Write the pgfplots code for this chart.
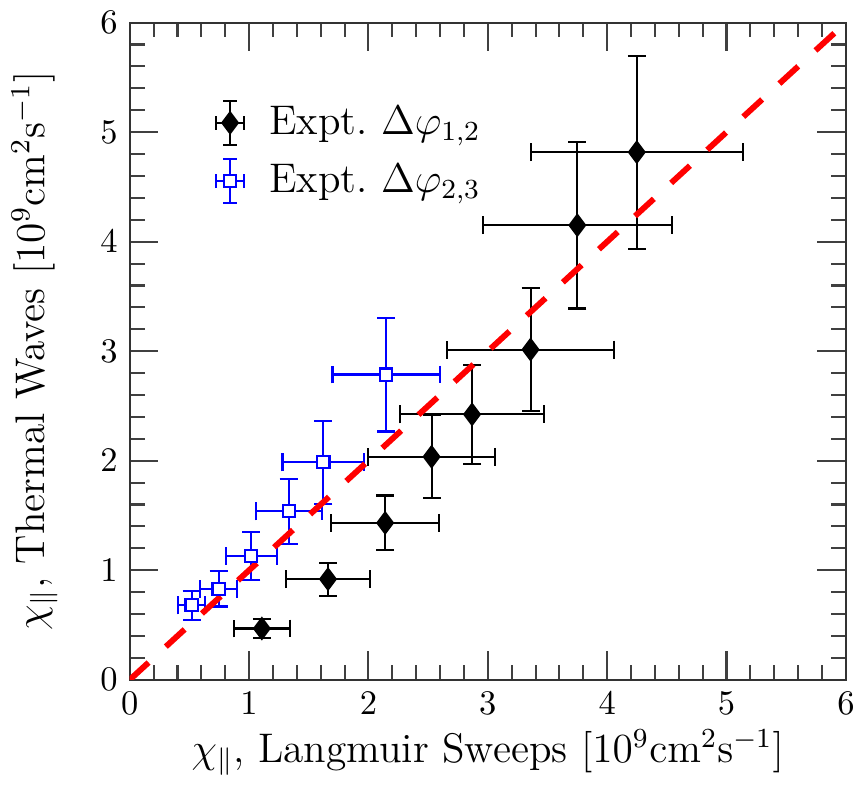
\documentclass[border=0pt]{standalone}
\usepackage{pgfplots}
\pgfplotsset{compat=1.18}
\pgfplotsset{
  errlegend/.style={legend image code/.code={
    \draw[##1,mark=none,solid] (4pt,-6.3pt)--(4pt,6.3pt);
    \draw[##1,mark=none,solid] (0pt,0pt)--(8pt,0pt);
    \draw[##1,mark=none,solid] (2pt,-6.3pt)--(6pt,-6.3pt);
    \draw[##1,mark=none,solid] (2pt,6.3pt)--(6pt,6.3pt);
    \draw[##1,mark=none,solid] (0pt,-2pt)--(0pt,2pt);
    \draw[##1,mark=none,solid] (8pt,-2pt)--(8pt,2pt);
    \draw[##1] plot coordinates {(4pt,0pt)};
    \path (13pt,0pt);
  }}
}
\begin{document}
\begin{tikzpicture}
\begin{axis}[
  scale only axis,
  width=207.6pt, height=190.5pt,
  xmin=0, xmax=6, ymin=0, ymax=6,
  xtick={0,...,6}, ytick={0,...,6},
  minor tick num=4,
  major tick length=8.3pt, minor tick length=4.3pt,
  every tick/.style={black!75, line width=0.6pt},
  axis line style={black!80, line width=0.6pt},
  xlabel={\large $\chi_{\|}$, Langmuir Sweeps $[10^9\mathrm{cm}^2\mathrm{s}^{-1}]$},
  ylabel={\large $\chi_{\|}$, Thermal Waves $[10^9\mathrm{cm}^2\mathrm{s}^{-1}]$},
  xlabel style={yshift=2.5pt},
  ylabel style={yshift=5.5pt},
  legend style={at={(0.104,0.895)}, anchor=north west, draw=none, fill=none,
    font=\large, row sep=3.2pt, legend cell align=left},
]
\addplot[black, only marks, mark=diamond*, mark size=3pt, line width=0.6pt,
  errlegend,
  error bars/.cd, x dir=both, x explicit, y dir=both, y explicit,
  error bar style={line width=0.6pt},
  error mark options={rotate=90, mark size=2.6pt, line width=0.6pt}]
  table[x=x, y=y, x error=ex, y error=ey] {
x y ex ey
1.107 0.468 0.235 0.09
1.661 0.919 0.35 0.15
2.14 1.432 0.45 0.25
2.529 2.036 0.53 0.38
2.868 2.423 0.60 0.45
3.358 3.015 0.70 0.56
3.75 4.15 0.79 0.76
4.248 4.817 0.89 0.88
};
\addlegendentry{Expt.\ $\Delta\varphi_{1,2}$}
\addplot[blue, only marks, mark=square*, mark size=1.75pt, line width=0.6pt,
  mark options={fill=white}, errlegend,
  error bars/.cd, x dir=both, x explicit, y dir=both, y explicit,
  error bar style={line width=0.6pt},
  error mark options={rotate=90, mark size=2.6pt, line width=0.6pt}]
  table[x=x, y=y, x error=ex, y error=ey] {
x y ex ey
0.518 0.679 0.11 0.13
0.744 0.829 0.157 0.16
1.019 1.132 0.215 0.22
1.331 1.538 0.277 0.296
1.623 1.985 0.343 0.378
2.149 2.787 0.45 0.52
};
\addlegendentry{Expt.\ $\Delta\varphi_{2,3}$}
\addplot[red, line width=1.7pt, dash pattern=on 7.4pt off 6.8pt, forget plot]
  coordinates {(0,0) (6,6)};
\end{axis}
\end{tikzpicture}
\end{document}
